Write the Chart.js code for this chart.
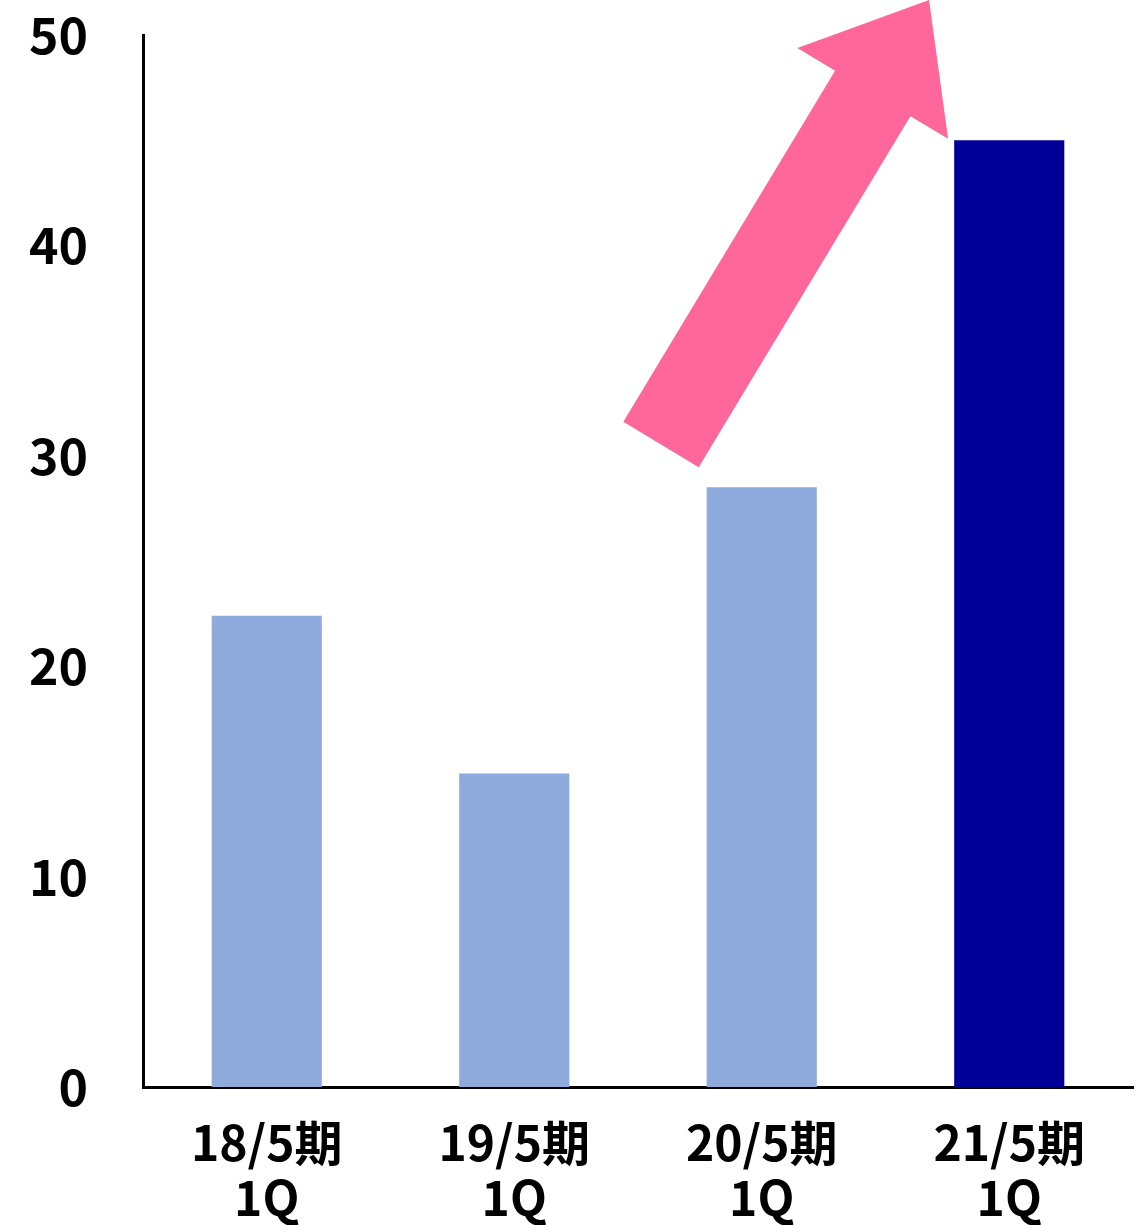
<!DOCTYPE html>
<html>
<head>
<meta charset="utf-8">
<script src="https://cdn.jsdelivr.net/npm/chart.js@4.4.0/dist/chart.umd.min.js"></script>
<style>
html,body{margin:0;padding:0;background:#fff;}
#wrap{width:1139px;height:1225px;}
</style>
</head>
<body>
<div id="wrap"><canvas id="c" width="1139" height="1225"></canvas></div>
<script>
const categories = [["18/5期","1Q"],["19/5期","1Q"],["20/5期","1Q"],["21/5期","1Q"]];
const values = [22.4, 14.9, 28.5, 45.0];
const barColors = ["#8FAADC","#8FAADC","#8FAADC","#000099"];
const yTicks = [0, 10, 20, 30, 40, 50];
// arrow anchors in data space: [category index, value]
const arrowTail = [1.593, 30.54];
const arrowTip = [2.676, 51.66];

const FONT = "'Noto Sans CJK JP','Noto Sans',sans-serif";

const arrowPlugin = {
  id: 'arrow',
  afterDatasetsDraw(chart) {
    const {ctx, scales:{x, y}} = chart;
    const px = x.getPixelForValue(arrowTail[0]), py = y.getPixelForValue(arrowTail[1]);
    const tx = x.getPixelForValue(arrowTip[0]), ty = y.getPixelForValue(arrowTip[1]);
    const dx = tx - px, dy = ty - py, L = Math.hypot(dx, dy);
    const ux = dx / L, uy = dy / L, nx = -uy, ny = ux;
    const sw = 44, hw = 88, hl = 109;
    const bx = tx - ux * hl, by = ty - uy * hl;
    const pts = [
      [px + nx*sw, py + ny*sw],
      [bx + nx*sw, by + ny*sw],
      [bx + nx*hw, by + ny*hw],
      [tx, ty],
      [bx - nx*hw, by - ny*hw],
      [bx - nx*sw, by - ny*sw],
      [px - nx*sw, py - ny*sw]
    ];
    ctx.save();
    ctx.beginPath();
    pts.forEach((p, i) => i ? ctx.lineTo(p[0], p[1]) : ctx.moveTo(p[0], p[1]));
    ctx.closePath();
    ctx.fillStyle = '#FF6699';
    ctx.fill();
    ctx.restore();
  }
};

new Chart(document.getElementById('c'), {
  type: 'bar',
  data: {
    labels: categories,
    datasets: [{
      data: values,
      backgroundColor: barColors,
      borderWidth: 0,
      barPercentage: 0.445,
      categoryPercentage: 1
    }]
  },
  options: {
    responsive: false,
    animation: false,
    events: [],
    layout: { padding: { top: 35, right: 6, left: 0, bottom: 0 } },
    plugins: { legend: { display: false }, tooltip: { enabled: false } },
    scales: {
      x: {
        grid: { display: false, drawTicks: false },
        border: { display: true, color: '#000', width: 3 },
        ticks: {
          color: '#000', padding: 28, maxRotation: 0, autoSkip: false,
          font: { family: FONT, size: 48, weight: 'bold', lineHeight: 1.15 }
        },
        afterFit(s) { s.height = 138; s.paddingLeft = 0; s.paddingRight = 0; }
      },
      y: {
        min: 0, max: 50,
        grid: { display: false, drawTicks: false },
        border: { display: true, color: '#000', width: 3 },
        ticks: {
          color: '#000', padding: 55, stepSize: 10,
          callback: (v) => yTicks.includes(v) ? String(v) : null,
          font: { family: FONT, size: 50, weight: 'bold', lineHeight: 1.0 }
        },
        afterFit(s) { s.width = 143; s.paddingTop = 0; s.paddingBottom = 0; }
      }
    }
  },
  plugins: [arrowPlugin]
});
</script>
</body>
</html>
